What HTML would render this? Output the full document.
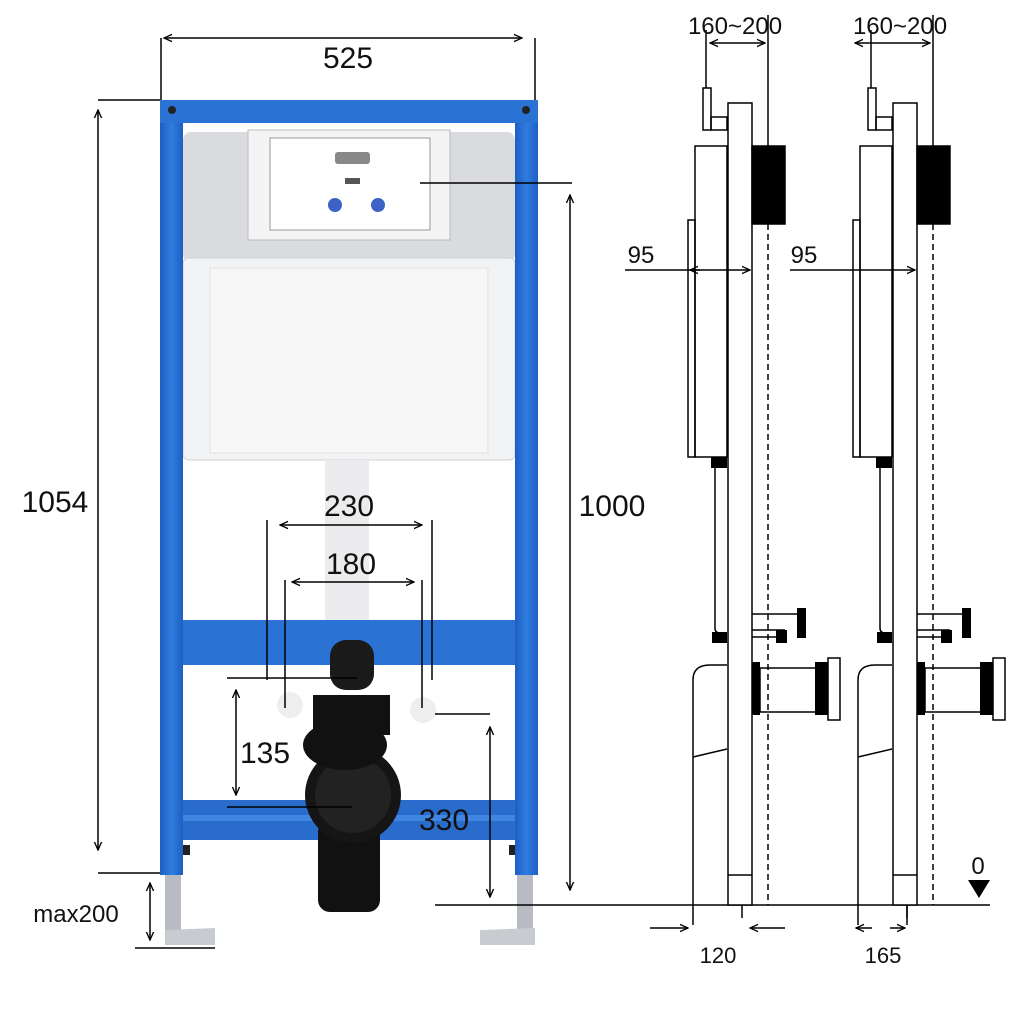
<!DOCTYPE html>
<html><head><meta charset="utf-8"><style>
html,body{margin:0;padding:0;background:#fff;}
svg{display:block;}
text{font-family:"Liberation Sans",sans-serif;fill:#111;}
</style></head><body>
<svg width="1024" height="1024" viewBox="0 0 1024 1024" xmlns="http://www.w3.org/2000/svg">
<defs>
<marker id="a" viewBox="0 0 10 10" refX="9" refY="5" markerWidth="6" markerHeight="6" orient="auto-start-reverse"><path d="M0,1 L9,5 L0,9" fill="none" stroke="#000" stroke-width="1.5"/></marker>
<linearGradient id="bl" x1="0" x2="1"><stop offset="0" stop-color="#1f5fc0"/><stop offset="0.5" stop-color="#2f7ce0"/><stop offset="1" stop-color="#1f5fc0"/></linearGradient>
</defs>
<rect width="1024" height="1024" fill="#fff"/>

<rect x="165" y="872" width="16" height="65" fill="#b8bcc2"/>
<rect x="517" y="872" width="16" height="65" fill="#b8bcc2"/>
<polygon points="165,930 215,928 215,945 165,945" fill="#c8ccd0"/>
<polygon points="480,930 535,928 535,945 480,945" fill="#c8ccd0"/>
<rect x="183" y="845" width="7" height="10" fill="#222"/>
<rect x="509" y="845" width="7" height="10" fill="#222"/>

<rect x="183" y="132" width="332" height="130" rx="8" fill="#d9dbde"/>
<rect x="183" y="258" width="332" height="202" rx="6" fill="#f2f3f4" stroke="#d0d2d4"/>
<rect x="210" y="268" width="278" height="185" fill="#f7f7f8" stroke="#e0e0e2"/>
<rect x="248" y="130" width="202" height="110" fill="#f4f4f4" stroke="#bbb"/>
<rect x="270" y="138" width="160" height="92" fill="#fff" stroke="#999"/>
<rect x="335" y="152" width="35" height="12" rx="3" fill="#888"/>
<rect x="345" y="178" width="15" height="6" fill="#555"/>
<circle cx="335" cy="205" r="7" fill="#3b62c4"/><circle cx="378" cy="205" r="7" fill="#3b62c4"/>
<rect x="325" y="460" width="44" height="170" fill="#ececee"/>

<rect x="160" y="100" width="23" height="775" fill="url(#bl)"/>
<rect x="515" y="100" width="23" height="775" fill="url(#bl)"/>
<rect x="160" y="100" width="378" height="23" fill="#2a72d4"/>
<rect x="183" y="620" width="332" height="45" fill="#2a72d4"/>
<rect x="183" y="800" width="332" height="40" fill="#2a6ccc"/>
<rect x="183" y="815" width="332" height="6" fill="#3f86e2"/>
<circle cx="172" cy="110" r="4" fill="#222"/><circle cx="526" cy="110" r="4" fill="#222"/>

<rect x="330" y="640" width="44" height="50" rx="16" fill="#1a1a1a"/>
<rect x="313" y="695" width="77" height="40" fill="#111"/>
<rect x="318" y="820" width="62" height="92" rx="12" fill="#111"/>
<circle cx="353" cy="795" r="48" fill="#151515"/>
<circle cx="353" cy="795" r="38" fill="#222"/>
<ellipse cx="345" cy="745" rx="42" ry="25" fill="#111"/>
<circle cx="290" cy="705" r="13" fill="#eee"/><circle cx="423" cy="710" r="13" fill="#eee"/>

<g stroke="#000" stroke-width="1.5" fill="none">
<line x1="161" y1="38" x2="161" y2="100"/><line x1="535" y1="38" x2="535" y2="100"/>
<line x1="164" y1="38" x2="522" y2="38" marker-start="url(#a)" marker-end="url(#a)"/>
<line x1="98" y1="100" x2="160" y2="100"/>
<line x1="98" y1="110" x2="98" y2="850" marker-start="url(#a)" marker-end="url(#a)"/>
<line x1="98" y1="873" x2="160" y2="873"/>
<line x1="150" y1="883" x2="150" y2="940" marker-start="url(#a)" marker-end="url(#a)"/>
<line x1="135" y1="948" x2="215" y2="948"/>
<line x1="420" y1="183" x2="572" y2="183"/>
<line x1="570" y1="195" x2="570" y2="890" marker-start="url(#a)" marker-end="url(#a)"/>
<line x1="435" y1="905" x2="990" y2="905"/>
<line x1="267" y1="520" x2="267" y2="680"/><line x1="432" y1="520" x2="432" y2="680"/>
<line x1="280" y1="525" x2="422" y2="525" marker-start="url(#a)" marker-end="url(#a)"/>
<line x1="285" y1="580" x2="285" y2="708"/><line x1="422" y1="580" x2="422" y2="708"/>
<line x1="292" y1="582" x2="414" y2="582" marker-start="url(#a)" marker-end="url(#a)"/>
<line x1="227" y1="678" x2="357" y2="678"/>
<line x1="236" y1="690" x2="236" y2="795" marker-start="url(#a)" marker-end="url(#a)"/>
<line x1="227" y1="807" x2="352" y2="807"/>
<line x1="435" y1="714" x2="490" y2="714"/>
<line x1="490" y1="727" x2="490" y2="897" marker-start="url(#a)" marker-end="url(#a)"/>
</g>
<text x="348" y="68" font-size="30" text-anchor="middle">525</text>
<text x="55" y="512" font-size="30" text-anchor="middle">1054</text>
<text x="612" y="516" font-size="30" text-anchor="middle">1000</text>
<text x="349" y="516" font-size="30" text-anchor="middle">230</text>
<text x="351" y="574" font-size="30" text-anchor="middle">180</text>
<text x="265" y="763" font-size="30" text-anchor="middle">135</text>
<text x="444" y="830" font-size="30" text-anchor="middle">330</text>
<text x="76" y="922" font-size="24" text-anchor="middle">max200</text>

<g id="sv" stroke="#000" stroke-width="1.5" fill="none">
<rect x="728" y="103" width="24" height="802" fill="#fff"/>
<line x1="728" y1="875" x2="752" y2="875"/>
<rect x="703" y="88" width="8" height="42"/>
<rect x="711" y="117" width="16" height="13"/>
<line x1="706" y1="88" x2="706" y2="30"/>
<line x1="768" y1="146" x2="768" y2="15"/>
<rect x="752" y="146" width="33" height="78" fill="#000"/>
<line x1="768" y1="224" x2="768" y2="905" stroke-dasharray="6,4"/>
<rect x="695" y="146" width="32" height="311"/>
<rect x="688" y="220" width="7" height="237"/>
<rect x="711" y="457" width="16" height="11" fill="#000" stroke="none"/>
<path d="M715,468 V628 Q715,633 720,633 H727"/>
<rect x="712" y="632" width="15" height="11" fill="#000" stroke="none"/>
<line x1="752" y1="614" x2="800" y2="614"/>
<line x1="752" y1="630" x2="785" y2="630"/>
<line x1="752" y1="637" x2="785" y2="637"/>
<rect x="797" y="608" width="9" height="30" fill="#000" stroke="none"/>
<rect x="776" y="630" width="11" height="13" fill="#000" stroke="none"/>
<rect x="752" y="662" width="8" height="53" fill="#000" stroke="none"/>
<rect x="760" y="668" width="57" height="44"/>
<rect x="815" y="662" width="13" height="53" fill="#000" stroke="none"/>
<rect x="828" y="658" width="12" height="62"/>
<path d="M693,925 V680 Q693,665 710,665 H727"/>
<path d="M693,757 L727,749"/>
<line x1="742" y1="905" x2="742" y2="918"/>
<line x1="625" y1="270" x2="750" y2="270" marker-end="url(#a)"/>
</g>
<g stroke="#000" stroke-width="1.5" fill="none">
<line x1="650" y1="928" x2="688" y2="928" marker-end="url(#a)"/>
<line x1="785" y1="928" x2="750" y2="928" marker-end="url(#a)"/>
<line x1="690" y1="270" x2="700" y2="270" marker-start="url(#a)"/>
<line x1="710" y1="43" x2="765" y2="43" marker-start="url(#a)" marker-end="url(#a)"/>
<line x1="855" y1="43" x2="930" y2="43" marker-start="url(#a)" marker-end="url(#a)"/>
<line x1="856" y1="928" x2="872" y2="928" marker-start="url(#a)"/>
<line x1="890" y1="928" x2="905" y2="928" marker-end="url(#a)"/>
<line x1="907" y1="905" x2="907" y2="925"/>
</g>
<use href="#sv" x="165"/>
<text x="735" y="34" font-size="24" text-anchor="middle">160~200</text>
<text x="900" y="34" font-size="24" text-anchor="middle">160~200</text>
<text x="641" y="263" font-size="24" text-anchor="middle">95</text>
<text x="804" y="263" font-size="24" text-anchor="middle">95</text>
<text x="718" y="963" font-size="22" text-anchor="middle">120</text>
<text x="883" y="963" font-size="22" text-anchor="middle">165</text>
<text x="978" y="874" font-size="24" text-anchor="middle">0</text>
<polygon points="968,880 990,880 979,898" fill="#000"/>
</svg>
</body></html>
